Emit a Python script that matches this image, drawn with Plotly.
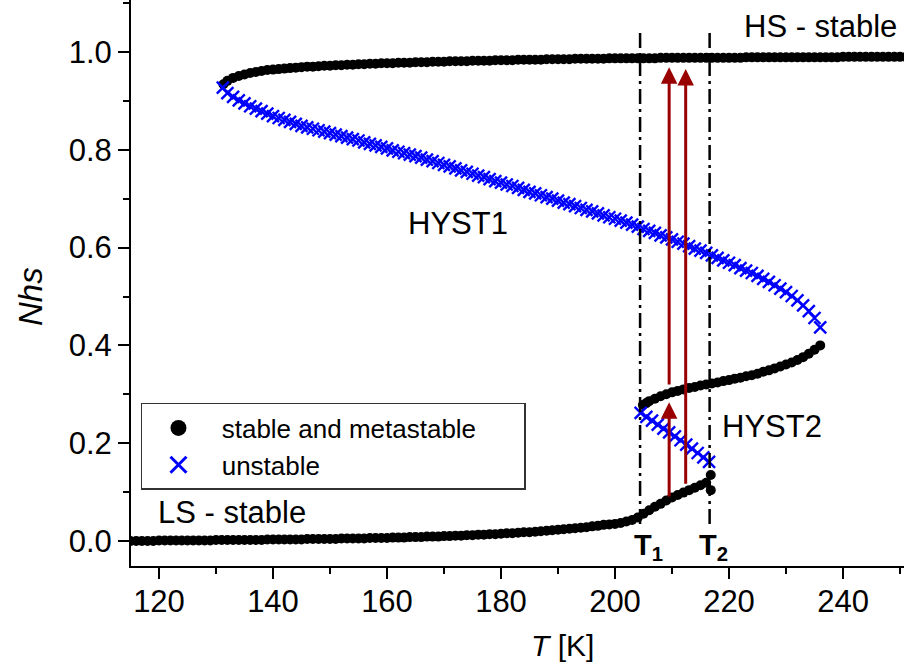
import plotly.graph_objects as go

# ---------------- data ----------------
# HS stable branch (black)
T_hs = [131.3, 132, 133, 134, 135, 136, 137, 138, 139, 140, 141, 142, 143, 144, 145, 146, 147, 148, 149, 150,
        151, 152, 153, 154, 155, 156, 157, 158, 159, 160, 161, 162, 163, 164, 165, 166, 167, 168, 169, 170,
        171, 172, 173, 174, 175, 176, 177, 178, 179, 180, 181, 182, 183, 184, 185, 186, 187, 188, 189, 190,
        191, 192, 193, 194, 195, 196, 197, 198, 199, 200, 201, 202, 203, 204, 205, 206, 207, 208, 209, 210,
        211, 212, 213, 214, 215, 216, 217, 218, 219, 220, 221, 222, 223, 224, 225, 226, 227, 228, 229, 230,
        231, 232, 233, 234, 235, 236, 237, 238, 239, 240, 241, 242, 243, 244, 245, 246, 247, 248, 249, 250, 251]
N_hs = [0.934, 0.941, 0.947, 0.951, 0.954, 0.957, 0.959, 0.961, 0.963, 0.964, 0.965, 0.966, 0.967, 0.968, 0.969, 0.970, 0.970, 0.971, 0.972, 0.972,
        0.973, 0.973, 0.974, 0.974, 0.975, 0.975, 0.976, 0.976, 0.977, 0.977, 0.977, 0.978, 0.978, 0.978, 0.979, 0.979, 0.979, 0.980, 0.980, 0.980,
        0.981, 0.981, 0.981, 0.981, 0.982, 0.982, 0.982, 0.982, 0.983, 0.983, 0.983, 0.983, 0.984, 0.984, 0.984, 0.984, 0.984, 0.985, 0.985, 0.985,
        0.985, 0.985, 0.986, 0.986, 0.986, 0.986, 0.986, 0.986, 0.987, 0.987, 0.987, 0.987, 0.987, 0.987, 0.987, 0.987, 0.987, 0.988, 0.988, 0.988,
        0.988, 0.988, 0.988, 0.988, 0.988, 0.988, 0.988, 0.988, 0.988, 0.988, 0.988, 0.988, 0.989, 0.989, 0.989, 0.989, 0.989, 0.989, 0.989, 0.989,
        0.989, 0.989, 0.989, 0.989, 0.989, 0.989, 0.989, 0.989, 0.989, 0.990, 0.990, 0.990, 0.990, 0.990, 0.990, 0.990, 0.990, 0.990, 0.990, 0.990, 0.990]

# LS stable branch (black)
T_ls = [115, 116, 117, 118, 119, 120, 121, 122, 123, 124, 125, 126, 127, 128, 129, 130, 131, 132, 133, 134,
        135, 136, 137, 138, 139, 140, 141, 142, 143, 144, 145, 146, 147, 148, 149, 150, 151, 152, 153, 154,
        155, 156, 157, 158, 159, 160, 161, 162, 163, 164, 165, 166, 167, 168, 169, 170, 171, 172, 173, 174,
        175, 176, 177, 178, 179, 180, 181, 182, 183, 184, 185, 186, 187, 188, 189, 190, 191, 192, 193, 194,
        195, 196, 197, 198, 199, 200, 201, 202, 203, 204, 205, 206, 207, 208, 209, 210, 211, 212, 213, 214,
        215, 216, 216.8, 216.8]
N_ls = [0.000, 0.000, 0.000, 0.000, 0.000, 0.001, 0.001, 0.001, 0.001, 0.001, 0.001, 0.001, 0.001, 0.001, 0.001, 0.002, 0.002, 0.002, 0.002, 0.002,
        0.002, 0.002, 0.002, 0.002, 0.003, 0.003, 0.003, 0.003, 0.003, 0.003, 0.003, 0.004, 0.004, 0.004, 0.004, 0.004, 0.004, 0.005, 0.005, 0.005,
        0.005, 0.005, 0.006, 0.006, 0.006, 0.006, 0.007, 0.007, 0.007, 0.008, 0.008, 0.008, 0.009, 0.009, 0.009, 0.010, 0.010, 0.011, 0.011, 0.012,
        0.012, 0.013, 0.013, 0.014, 0.014, 0.015, 0.016, 0.016, 0.017, 0.018, 0.018, 0.019, 0.020, 0.021, 0.022, 0.023, 0.024, 0.025, 0.026, 0.027,
        0.028, 0.030, 0.031, 0.033, 0.034, 0.035, 0.037, 0.040, 0.043, 0.048, 0.056, 0.063, 0.070, 0.076, 0.083, 0.089, 0.094, 0.099, 0.104, 0.109,
        0.114, 0.119, 0.104, 0.135]

# Intermediate stable branch (black)
T_mid = [204.9, 205.5, 206, 207, 208, 209, 210, 211, 212, 213, 214, 215, 216, 217, 218, 219, 220,
         221, 222, 223, 224, 225, 226, 227, 228, 229, 230, 231, 232, 233, 234, 235, 236]
N_mid = [0.278, 0.282, 0.286, 0.291, 0.296, 0.300, 0.304, 0.307, 0.310, 0.313, 0.315, 0.318, 0.320, 0.322, 0.324, 0.327, 0.329,
         0.332, 0.334, 0.337, 0.339, 0.342, 0.346, 0.349, 0.353, 0.357, 0.361, 0.365, 0.370, 0.376, 0.383, 0.391, 0.400]

# Unstable branch HYST1 (blue)
T_un1 = [131.2, 132, 133, 134, 135, 136, 137, 138, 139, 140, 141, 142, 143, 144, 145, 146, 147, 148, 149, 150,
         151, 152, 153, 154, 155, 156, 157, 158, 159, 160, 161, 162, 163, 164, 165, 166, 167, 168, 169, 170,
         171, 172, 173, 174, 175, 176, 177, 178, 179, 180, 181, 182, 183, 184, 185, 186, 187, 188, 189, 190,
         191, 192, 193, 194, 195, 196, 197, 198, 199, 200, 201, 202, 203, 204, 205, 206, 207, 208, 209, 210,
         211, 212, 213, 214, 215, 216, 217, 218, 219, 220, 221, 222, 223, 224, 225, 226, 227, 228, 229, 230,
         231, 232, 233, 234, 235, 236]
N_un1 = [0.927, 0.916, 0.908, 0.901, 0.895, 0.889, 0.884, 0.879, 0.874, 0.869, 0.865, 0.861, 0.857, 0.853, 0.849, 0.846, 0.843, 0.840, 0.837, 0.834,
         0.831, 0.828, 0.825, 0.822, 0.819, 0.815, 0.812, 0.809, 0.806, 0.803, 0.799, 0.796, 0.793, 0.790, 0.787, 0.784, 0.780, 0.777, 0.773, 0.769,
         0.766, 0.762, 0.758, 0.755, 0.751, 0.747, 0.744, 0.740, 0.736, 0.733, 0.729, 0.726, 0.722, 0.718, 0.714, 0.711, 0.707, 0.703, 0.700, 0.696,
         0.692, 0.689, 0.685, 0.681, 0.677, 0.674, 0.670, 0.666, 0.662, 0.659, 0.655, 0.651, 0.647, 0.643, 0.638, 0.634, 0.630, 0.625, 0.621, 0.617,
         0.612, 0.608, 0.603, 0.598, 0.594, 0.589, 0.584, 0.579, 0.574, 0.569, 0.564, 0.558, 0.553, 0.548, 0.542, 0.536, 0.530, 0.523, 0.516, 0.509,
         0.501, 0.492, 0.482, 0.470, 0.456, 0.437]

# Unstable branch HYST2 (blue)
T_un2 = [204.5, 205.5, 206.5, 207.5, 208.5, 209.5, 210.5, 211.5, 212.5, 213.5, 214.5, 215.5, 216.5]
N_un2 = [0.262, 0.254, 0.246, 0.238, 0.230, 0.222, 0.214, 0.206, 0.197, 0.189, 0.180, 0.171, 0.162]

# Characteristic temperatures and arrows
T1 = 204.4
T2 = 216.6
arrow_T = [209.5, 209.5, 212.4]
arrow_from = [0.088, 0.317, 0.114]
arrow_to = [0.284, 0.969, 0.965]

x_ticks = [120, 140, 160, 180, 200, 220, 240]
y_ticks = [0.0, 0.2, 0.4, 0.6, 0.8, 1.0]

FONT = "Liberation Sans, Arial, Helvetica, sans-serif"
BLUE = "#0000FF"
RED = "#990000"
NB = "\u00a0"

fig = go.Figure()

black_marker = dict(symbol="circle", size=10, color="black", line=dict(width=0))
blue_marker = dict(symbol="x-thin", size=12, color=BLUE, line=dict(width=2.4, color=BLUE))

for tx, ny in [(T_ls, N_ls), (T_mid, N_mid), (T_hs, N_hs)]:
    fig.add_trace(go.Scatter(x=tx, y=ny, mode="markers", marker=black_marker,
                             showlegend=False, hoverinfo="skip", cliponaxis=True))
for tx, ny in [(T_un1, N_un1), (T_un2, N_un2)]:
    fig.add_trace(go.Scatter(x=tx, y=ny, mode="markers", marker=blue_marker,
                             showlegend=False, hoverinfo="skip", cliponaxis=True))

# legend entries
fig.add_trace(go.Scatter(x=[None], y=[None], mode="markers",
                         name=NB + "stable and metastable" + NB * 6,
                         marker=dict(symbol="circle", size=16, color="black")))
fig.add_trace(go.Scatter(x=[None], y=[None], mode="markers", name=NB + "unstable",
                         marker=dict(symbol="x-thin", size=16, color=BLUE, line=dict(width=3, color=BLUE))))

# dash-dot vertical lines
for tv in (T1, T2):
    fig.add_shape(type="line", x0=tv, x1=tv, y0=0.035, y1=1.041, xref="x", yref="y",
                  line=dict(color="black", width=2.5, dash="15px,5px,3px,5px"))

# arrows
for xa, y0, y1 in zip(arrow_T, arrow_from, arrow_to):
    fig.add_annotation(x=xa, y=y1, ax=xa, ay=y0, xref="x", yref="y", axref="x", ayref="y",
                       showarrow=True, arrowhead=2, arrowsize=1.1, arrowwidth=3,
                       arrowcolor=RED, text="", standoff=0)

def label(text, x, y, size=31, xanchor="center", yanchor="middle"):
    fig.add_annotation(x=x, y=y, xref="x", yref="y", text=text, showarrow=False,
                       font=dict(family=FONT, size=size, color="black"),
                       xanchor=xanchor, yanchor=yanchor)

label("HS - stable", 236.0, 1.053)
label("HYST1", 172.5, 0.650)
label("HYST2", 227.5, 0.235)
label("LS - stable", 132.8, 0.059)
label("<b>T<sub>1</sub></b>", 203.0, -0.012, size=29, xanchor="left")
label("<b>T<sub>2</sub></b>", 214.4, -0.012, size=29, xanchor="left")

# axis titles
fig.add_annotation(x=-0.1307, y=0.477, xref="paper", yref="paper", text="<i>Nhs</i>",
                   textangle=-90, showarrow=False, xanchor="center", yanchor="middle",
                   font=dict(family=FONT, size=33, color="black"))
fig.add_annotation(x=0.5576, y=-0.1413, xref="paper", yref="paper", text="<i>T</i> [K]",
                   showarrow=False, xanchor="center", yanchor="middle",
                   font=dict(family=FONT, size=30, color="black"))

axis_common = dict(showline=True, linecolor="black", linewidth=2, mirror=False,
                   showgrid=False, zeroline=False, ticks="outside", ticklen=11,
                   tickwidth=2, tickcolor="black", automargin=False,
                   tickfont=dict(family=FONT, size=31, color="black"))

fig.update_xaxes(range=[115.09, 250.7], tickvals=x_ticks, ticklabelstandoff=-4,
                 minor=dict(ticks="outside", ticklen=6, tickwidth=2, tickcolor="black", dtick=10, tick0=110),
                 **axis_common)
fig.update_yaxes(range=[-0.0511, 1.1063], tickvals=y_ticks, tickformat=".1f",
                 minor=dict(ticks="outside", ticklen=6, tickwidth=2, tickcolor="black", dtick=0.1, tick0=0),
                 **axis_common)

fig.update_layout(
    width=904, height=663,
    margin=dict(l=131, r=0, t=0, b=97, autoexpand=False),
    plot_bgcolor="white", paper_bgcolor="white",
    font=dict(family=FONT, color="black"),
    showlegend=True,
    legend=dict(x=0.0129, y=0.288, xanchor="left", yanchor="top",
                bgcolor="white", bordercolor="#333333", borderwidth=1.5,
                font=dict(family=FONT, size=26, color="black"),
                itemwidth=62, tracegroupgap=0),
)

# remove the default page margin so the 904x663 figure fills the window exactly
fig.write_html("out.html",
               config={"displayModeBar": False},
               post_script="document.body.style.margin='0';document.body.style.overflow='hidden';")
